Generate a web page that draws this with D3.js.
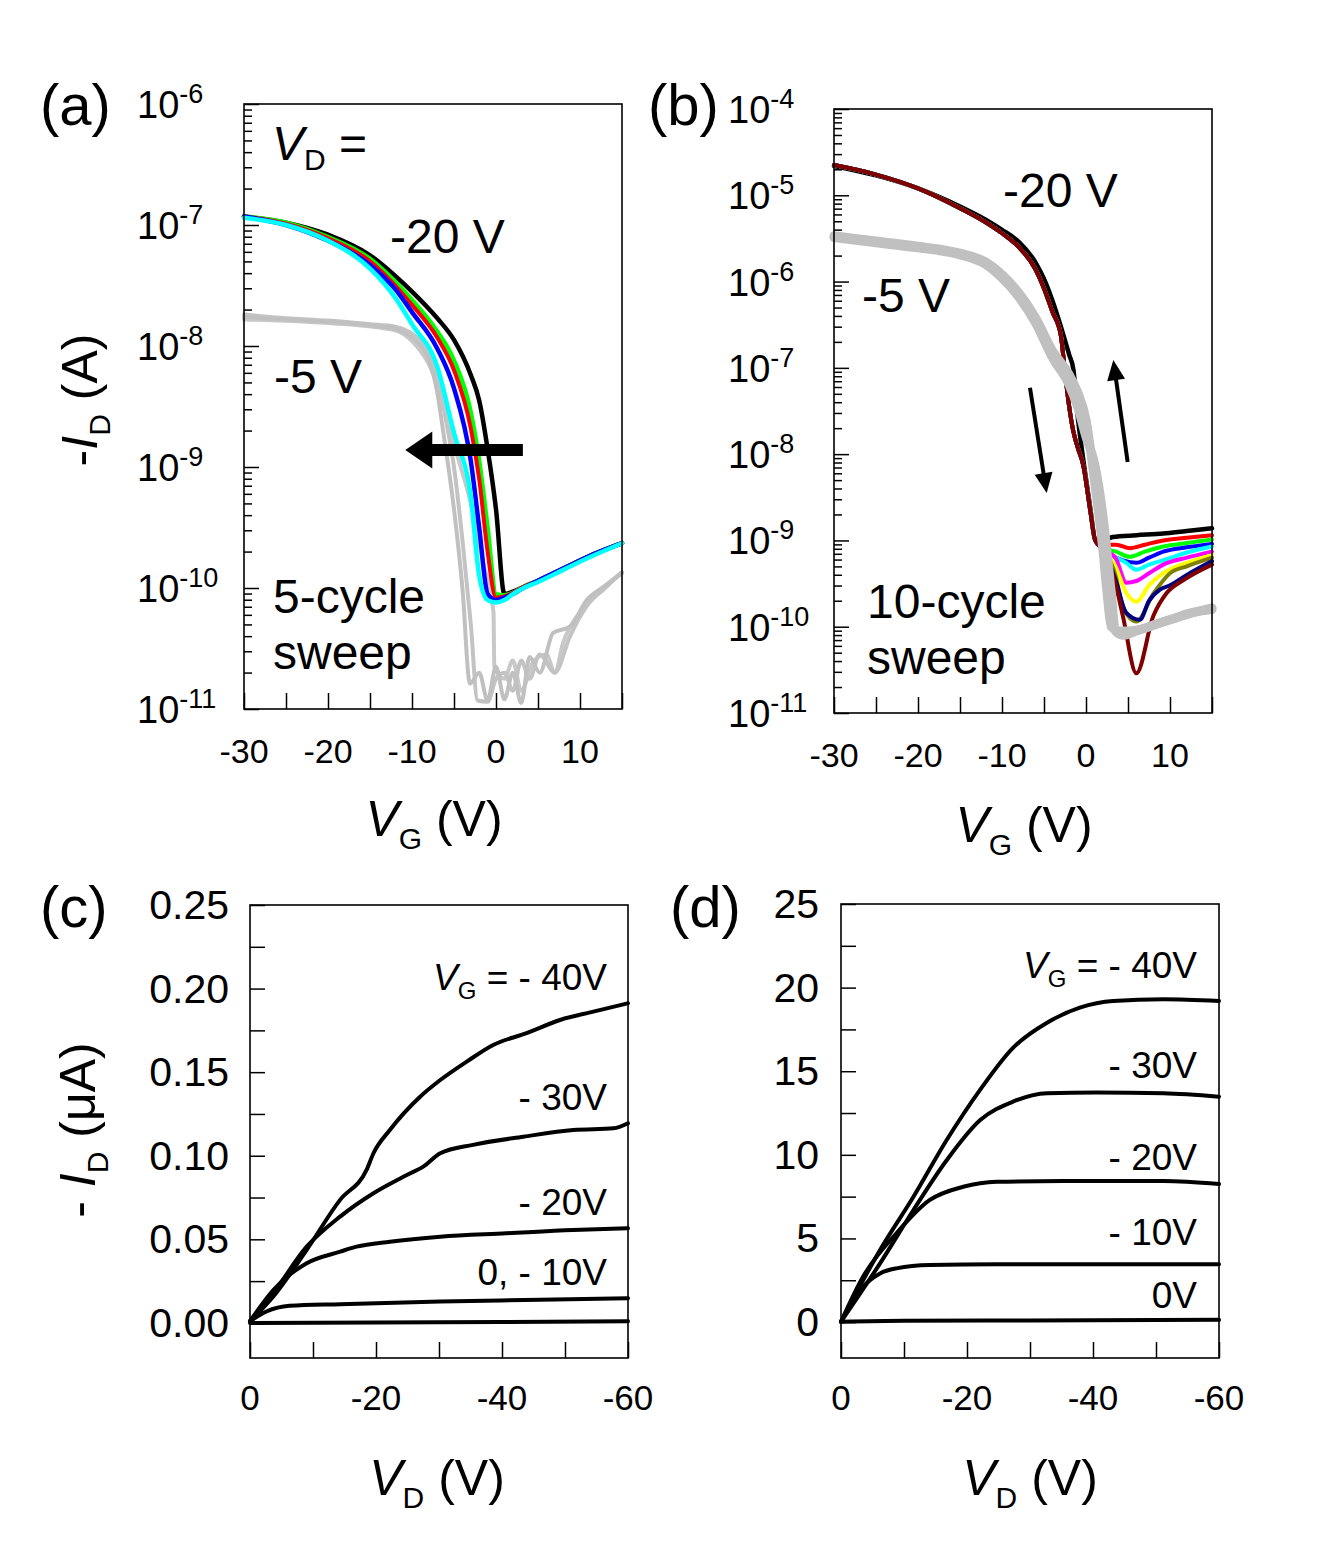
<!DOCTYPE html>
<html><head><meta charset="utf-8">
<script src="https://cdn.jsdelivr.net/npm/d3@7"></script>
<style>body{margin:0;background:#fff}text{font-family:"Liberation Sans",Arial,sans-serif;white-space:pre;fill:#000}</style>
</head><body><svg id="chart" width="1343" height="1549"></svg>
<script>
// ---------------- DATA ----------------
// Panel (a): transfer curves, VD = -20 V (5 cycles, coloured) and VD = -5 V (grey); values are log10(-ID / A)
const aV      = [-30,-25,-20,-15,-12,-10,-7,-5,-3,-2,-1,0,1,2,3,5,8,11,15];
const aBlack  = [-6.93,-6.98,-7.08,-7.25,-7.42,-7.55,-7.77,-7.95,-8.24,-8.45,-8.85,-9.35,-10.05,-10.03,-10.0,-9.94,-9.84,-9.74,-9.63];
const aGreen  = [-6.93,-6.98,-7.10,-7.28,-7.47,-7.62,-7.88,-8.12,-8.55,-8.95,-9.50,-10.05,-10.06,-10.04,-10.0,-9.94,-9.84,-9.74,-9.63];
const aRed    = [-6.93,-6.99,-7.11,-7.30,-7.50,-7.66,-7.93,-8.20,-8.68,-9.10,-9.70,-10.08,-10.07,-10.04,-10.0,-9.94,-9.84,-9.74,-9.63];
const aBlue   = [-6.93,-7.00,-7.13,-7.33,-7.53,-7.72,-8.02,-8.35,-8.95,-9.50,-10.05,-10.10,-10.08,-10.05,-10.01,-9.94,-9.84,-9.74,-9.63];
const aCyan   = [-6.94,-7.00,-7.13,-7.36,-7.60,-7.82,-8.17,-8.72,-9.25,-9.90,-10.10,-10.12,-10.10,-10.05,-10.01,-9.95,-9.85,-9.75,-9.63];
const aGrey1V = [-30,-25,-20,-15,-12,-10,-8,-7,-6.3,-5,-4,-3.1,-2,-1,0,1,2,3,4,5.2,6.8,8.8,10.8,13,15];
const aGrey1  = [-7.76,-7.78,-7.80,-7.83,-7.86,-7.93,-8.12,-8.38,-8.70,-9.35,-10.0,-10.79,-10.70,-10.93,-10.65,-10.92,-10.70,-10.95,-10.57,-10.70,-10.37,-10.32,-10.10,-9.98,-9.87];
const aGrey2V = [-30,-25,-20,-15,-12,-10,-8,-7,-6,-5,-4,-3,-2.2,-1,0,1,2,3,4,5.2,7,8.8,10.8,13,15];
const aGrey2  = [-7.74,-7.77,-7.79,-7.82,-7.84,-7.90,-8.05,-8.25,-8.60,-9.00,-9.60,-10.30,-10.93,-10.94,-10.75,-10.70,-10.85,-10.60,-10.75,-10.55,-10.70,-10.40,-10.15,-10.0,-9.87];
const aGrey3V = [-30,-20,-12,-10,-8,-6,-5,-3,-1.5,-0.3,-0.2,1,2,3,4.5,6,7,8,10,12,15];
const aGrey3  = [-7.78,-7.81,-7.87,-7.96,-8.15,-8.50,-8.80,-9.30,-9.80,-10.20,-10.65,-10.75,-10.60,-10.85,-10.60,-10.55,-10.70,-10.45,-10.20,-10.05,-9.88];

// Panel (b): VD = -20 V (10 cycles) and VD = -5 V (grey); log10(-ID / A)
const bUpperV = [-30,-25,-20,-15,-12,-10,-8,-6,-5,-4,-3,-2.5,-2,-1.5,-1,-0.3,0.5,1.1];
const bUpper  = [-4.65,-4.76,-4.92,-5.15,-5.31,-5.44,-5.60,-5.86,-6.08,-6.35,-6.62,-7.05,-7.45,-7.74,-7.92,-8.14,-8.65,-9.00];
const bBlackV = [-30,-25,-20,-15,-12,-10,-8,-6,-5,-4,-3,-2,-1.5,-1,-0.3,0.5,1.1,2,3.2,6,9.2,12,15];
const bBlack  = [-4.66,-4.77,-4.92,-5.13,-5.28,-5.40,-5.54,-5.78,-5.97,-6.22,-6.52,-6.85,-7.02,-7.55,-8.08,-8.62,-8.98,-9.0,-8.96,-8.94,-8.92,-8.89,-8.86];
const bRedTailV     = [2,3.6,5.2,7,9.2,12,15];
const bRedTail      = [-9.05,-9.05,-9.09,-9.05,-9.0,-8.97,-8.94];
const bGreenTailV   = [2,3.6,5.2,7,9.2,12,15];
const bGreenTail    = [-9.08,-9.13,-9.19,-9.13,-9.07,-9.03,-8.99];
const bBlueTailV    = [2,4.4,6,7.5,9.2,12,15];
const bBlueTail     = [-9.10,-9.23,-9.26,-9.20,-9.13,-9.08,-9.04];
const bCyanTailV    = [2,4.8,6,7.5,9.2,12,15];
const bCyanTail     = [-9.10,-9.26,-9.34,-9.28,-9.23,-9.14,-9.07];
const bMagentaTailV = [2,3.5,4.8,6,7.5,9.2,12,15];
const bMagentaTail  = [-9.10,-9.20,-9.49,-9.47,-9.38,-9.28,-9.20,-9.13];
const bYellowTailV  = [2,3.5,4.8,6,7.5,9.2,12,15];
const bYellowTail   = [-9.10,-9.30,-9.61,-9.71,-9.52,-9.38,-9.26,-9.17];
const bOliveTailV   = [2,3.5,4.4,6,8,10,12,15];
const bOliveTail    = [-9.10,-9.40,-9.77,-9.94,-9.62,-9.38,-9.30,-9.20];
const bNavyTailV    = [2,3.5,4.8,6.4,7.5,8.8,10,12,15];
const bNavyTail     = [-9.10,-9.45,-9.84,-9.92,-9.70,-9.57,-9.52,-9.40,-9.24];
const bMaroonTailV  = [2,3.5,4.4,6.0,8.0,9.6,11.6,15];
const bMaroonTail   = [-9.10,-9.50,-9.88,-10.54,-9.88,-9.61,-9.46,-9.28];
const bGreyAV = [-30,-25,-20,-15,-12,-10,-8,-6,-4,-2,-1,0,1,2,2.5,3,4,5,7,9,11,13,15];
const bGreyA  = [-5.47,-5.53,-5.59,-5.67,-5.77,-5.92,-6.13,-6.42,-6.80,-7.08,-7.28,-7.60,-8.30,-9.10,-9.60,-10.0,-10.05,-10.05,-10.02,-9.95,-9.89,-9.83,-9.78];
const bGreyBV = [-30,-25,-20,-15,-12,-10,-8,-6,-4,-2,-1,0,1,2,3,3.5,4.5,6,8,10,12,15];
const bGreyB  = [-5.49,-5.55,-5.61,-5.69,-5.80,-5.96,-6.18,-6.48,-6.88,-7.20,-7.45,-7.80,-8.10,-8.70,-9.60,-10.05,-10.10,-10.05,-9.98,-9.92,-9.85,-9.80];

// Panel (c): output curves, -ID in uA
const cV40 = [0,-3.7,-9.0,-14.3,-18.5,-19.6,-22.2,-27,-30.2,-34.4,-38.6,-43.9,-49.2,-54.5,-60];
const cI40 = [0.001,0.0158,0.0437,0.0736,0.0915,0.1015,0.1154,0.1353,0.1453,0.1563,0.1663,0.1733,0.1812,0.1862,0.1912];
const cV30 = [0,-3.7,-9.0,-14.3,-19.6,-24.9,-27.5,-30.2,-35.4,-43.4,-51.3,-57.7,-60];
const cI30 = [0.001,0.0179,0.0456,0.0636,0.0776,0.0885,0.0935,0.1015,0.1065,0.1114,0.1154,0.1164,0.1194];
const cV20 = [0,-3.7,-9.0,-14.3,-16.9,-22.2,-30.2,-40.7,-51.3,-60];
const cI20 = [0.001,0.0197,0.0357,0.0426,0.0456,0.0486,0.0516,0.0536,0.0556,0.0566];
const cV10 = [0,-2.6,-6.3,-14.3,-30.2,-46,-60];
const cI10 = [0.001,0.0068,0.0102,0.0112,0.0128,0.0138,0.0148];
const cV0  = [0,-20,-40,-60];
const cI0  = [0.0,0.0002,0.0005,0.0010];

// Panel (d): output curves, -ID in uA
const dV40 = [0,-6.2,-11.5,-16.8,-22.1,-27.3,-32.7,-37.9,-43.2,-51.2,-60];
const dI40 = [0.02,4.31,7.49,10.9,13.9,16.4,17.9,18.8,19.2,19.3,19.2];
const dV30 = [0,-6.2,-11.5,-16.8,-22.1,-27.3,-32.7,-40.6,-51.2,-60];
const dI30 = [0.02,3.51,6.70,9.69,12.08,13.18,13.68,13.72,13.68,13.48];
const dV20 = [0,-3.5,-8.8,-14.1,-19.4,-24.7,-35.3,-51.2,-60];
const dI20 = [0.02,2.71,5.31,7.30,8.09,8.39,8.43,8.43,8.25];
const dV10 = [0,-3.5,-6.2,-8.8,-14.1,-24.7,-60];
const dI10 = [0.02,2.11,2.91,3.21,3.41,3.45,3.45];
const dV0  = [0,-10,-30,-60];
const dI0  = [0.02,0.08,0.10,0.13];

// Axis ticks
const abXTicks = [-30,-25,-20,-15,-10,-5,0,5,10,15];
const abXLabels = [-30,-20,-10,0,10];
const aYExp = [-6,-7,-8,-9,-10,-11];
const bYExp = [-4,-5,-6,-7,-8,-9,-10,-11];
const cdXTicks = [0,-10,-20,-30,-40,-50,-60];
const cdXLabels = [0,-20,-40,-60];
const cYTicks = [0,0.025,0.05,0.075,0.1,0.125,0.15,0.175,0.2,0.225,0.25];
const cYLabels = [0,0.05,0.1,0.15,0.2,0.25];
const dYTicks = [0,2.5,5,7.5,10,12.5,15,17.5,20,22.5,25];
const dYLabels = [0,5,10,15,20,25];

// ---------------- DRAW ----------------
const svg = d3.select('#chart');
svg.append('rect').attr('width',1343).attr('height',1549).attr('fill','#fff');

function rich(sel, x, y, parts, size, anchor, rot){
  const t = sel.append('text').attr('x',x).attr('y',y).attr('font-size',size)
    .attr('text-anchor',anchor||'start');
  if(rot) t.attr('transform',`rotate(${rot},${x},${y})`);
  let cur=0;
  parts.forEach(p=>{
    const ts=t.append('tspan').text(p.t);
    const sh=p.dy||0;
    if(sh-cur!==0) ts.attr('dy',sh-cur);
    cur=sh;
    if(p.size) ts.attr('font-size',p.size);
    if(p.it) ts.attr('font-style','italic');
  });
  return t;
}

const L = {
  a:{l:244,r:622,t:104,b:709},
  b:{l:834,r:1212,t:109,b:713},
  c:{l:250,r:628,t:905,b:1358},
  d:{l:841,r:1219,t:904,b:1358}
};

function frame(L){
  svg.append('rect').attr('x',L.l).attr('y',L.t).attr('width',L.r-L.l).attr('height',L.b-L.t)
    .attr('fill','none').attr('stroke','#000').attr('stroke-width',1.6);
}
function styleAxis(g){ g.select('.domain').remove(); g.selectAll('line').attr('stroke','#000').attr('stroke-width',1.5); }

function xAxis(L,x,ticks){
  svg.append('g').attr('transform',`translate(0,${L.b})`)
    .call(d3.axisBottom(x).tickValues(ticks).tickSize(-16).tickFormat(''))
    .call(styleAxis);
}
function xLabels(x,vals,yb,size){
  vals.forEach(v=>svg.append('text').attr('x',x(v)).attr('y',yb).attr('font-size',size)
    .attr('text-anchor','middle').text(String(v)));
}

// ---- Panel (a) & (b) log transfer plots
function logPanel(L, exps, labX){
  const x = d3.scaleLinear().domain([-30,15]).range([L.l,L.r]);
  const y = d3.scaleLog().domain([Math.pow(10,d3.min(exps)),Math.pow(10,d3.max(exps))]).range([L.b,L.t]);
  const major = exps.map(e=>Math.pow(10,e));
  const minor = [];
  exps.slice(1).forEach(e=>{ for(let m=2;m<=9;m++) minor.push(m*Math.pow(10,e)); });
  svg.append('g').attr('transform',`translate(${L.l},0)`)
    .call(d3.axisLeft(y).tickValues(major).tickSize(-15).tickFormat('')).call(styleAxis);
  svg.append('g').attr('transform',`translate(${L.l},0)`)
    .call(d3.axisLeft(y).tickValues(minor).tickSize(-8).tickFormat('')).call(styleAxis);
  xAxis(L,x,abXTicks);
  exps.forEach(e=>{
    rich(svg, labX, y(Math.pow(10,e))+14, [{t:'10'},{t:String(e),size:27,dy:-15}], 38, 'start');
  });
  return {x,y};
}

function drawLog(s, V, lg, color, w, curve){
  const line = d3.line().curve(curve||d3.curveMonotoneX).x(d=>s.x(d[0])).y(d=>s.y(Math.pow(10,d[1])));
  svg.append('path').datum(d3.zip(V,lg)).attr('d',line).attr('fill','none')
    .attr('stroke',color).attr('stroke-width',w).attr('stroke-linejoin','round').attr('stroke-linecap','round');
}

// (a)
const sa = logPanel(L.a, aYExp, 137);
drawLog(sa, aGrey3V, aGrey3, '#c8c8c8', 4);
drawLog(sa, aGrey2V, aGrey2, '#c3c3c3', 4);
drawLog(sa, aGrey1V, aGrey1, '#c0c0c0', 4);
drawLog(sa, aV, aBlack, '#000000', 4.5);
drawLog(sa, aV, aGreen, '#00ff00', 4.5);
drawLog(sa, aV, aRed, '#ff0000', 4);
drawLog(sa, aV, aBlue, '#0000ff', 4.5);
drawLog(sa, aV, aCyan, '#00ffff', 4.5);
frame(L.a);
// big arrow in (a)
const arrowA = {from:[3.2,-8.86], to:[-10.8,-8.86]};
(function(){
  const x0=sa.x(arrowA.from[0]), x1=sa.x(arrowA.to[0]), yc=sa.y(Math.pow(10,arrowA.from[1]));
  const hl=27, hw=18.5, sw=6;
  const pts=[[x0,yc-sw],[x1+hl,yc-sw],[x1+hl,yc-hw],[x1,yc],[x1+hl,yc+hw],[x1+hl,yc+sw],[x0,yc+sw]];
  svg.append('path').attr('d','M'+pts.map(p=>p.join(',')).join('L')+'Z').attr('fill','#000');
})();
rich(svg, 272, 160, [{t:'V',it:true},{t:'D',size:30,dy:10},{t:' =',dy:0}], 48, 'start');
rich(svg, 390, 253, [{t:'-20 V'}], 48, 'start');
rich(svg, 274, 393, [{t:'-5 V'}], 48, 'start');
rich(svg, 273, 613, [{t:'5-cycle'}], 48, 'start');
rich(svg, 273, 669, [{t:'sweep'}], 48, 'start');

// (b)
const sb = logPanel(L.b, bYExp, 728);
const bTails = [
  [bRedTailV,bRedTail,'#ff0000'],[bGreenTailV,bGreenTail,'#00ff00'],[bBlueTailV,bBlueTail,'#0000ff'],
  [bCyanTailV,bCyanTail,'#00ffff'],[bMagentaTailV,bMagentaTail,'#ff00ff'],[bYellowTailV,bYellowTail,'#ffff00'],
  [bOliveTailV,bOliveTail,'#808000'],[bNavyTailV,bNavyTail,'#000080'],[bMaroonTailV,bMaroonTail,'#800000']
];
drawLog(sb, bBlackV, bBlack, '#000000', 4.5);
bTails.forEach(t=>drawLog(sb, bUpperV.concat(t[0]), bUpper.concat(t[1]), t[2], 4));
drawLog(sb, bGreyAV, bGreyA, '#c0c0c0', 9);
drawLog(sb, bGreyBV, bGreyB, '#c0c0c0', 9);
frame(L.b);
const arrowsB = [{from:[-6.67,-7.23],to:[-4.68,-8.45]},{from:[4.96,-8.09],to:[3.25,-6.91]}];
arrowsB.forEach(a=>{
  const x0=sb.x(a.from[0]), y0=sb.y(Math.pow(10,a.from[1]));
  const x1=sb.x(a.to[0]),   y1=sb.y(Math.pow(10,a.to[1]));
  const dx=x1-x0, dy=y1-y0, len=Math.hypot(dx,dy), ux=dx/len, uy=dy/len;
  const hl=20, hw=9;
  const bx=x1-ux*hl, by=y1-uy*hl;
  svg.append('line').attr('x1',x0).attr('y1',y0).attr('x2',bx+ux*2).attr('y2',by+uy*2)
    .attr('stroke','#000').attr('stroke-width',4);
  svg.append('path').attr('d',`M${x1},${y1}L${bx-uy*hw},${by+ux*hw}L${bx+uy*hw},${by-ux*hw}Z`).attr('fill','#000');
});
rich(svg, 1003, 207, [{t:'-20 V'}], 48, 'start');
rich(svg, 862, 312, [{t:'-5 V'}], 48, 'start');
rich(svg, 867, 618, [{t:'10-cycle'}], 48, 'start');
rich(svg, 867, 674, [{t:'sweep'}], 48, 'start');

// x tick labels and titles for (a),(b)
xLabels(sa.x, abXLabels, 763, 34);
xLabels(sb.x, abXLabels, 767, 34);
rich(svg, 434, 836, [{t:'V',it:true},{t:'G',size:30,dy:13},{t:' (V)',dy:0}], 50, 'middle');
rich(svg, 1024, 842, [{t:'V',it:true},{t:'G',size:30,dy:13},{t:' (V)',dy:0}], 50, 'middle');
rich(svg, 97, 400, [{t:'-'},{t:'I',it:true},{t:'D',size:30,dy:13},{t:' (A)',dy:0}], 50, 'middle', -90);

// ---- Panels (c),(d)
function linPanel(L, ydom, yTicks, yLabels, fmt, labRight){
  const x = d3.scaleLinear().domain([0,-60]).range([L.l,L.r]);
  const y = d3.scaleLinear().domain(ydom).range([L.b,L.t]);
  svg.append('g').attr('transform',`translate(${L.l},0)`)
    .call(d3.axisLeft(y).tickValues(yTicks).tickSize(-15).tickFormat('')).call(styleAxis);
  xAxis(L,x,cdXTicks);
  yLabels.forEach(v=>svg.append('text').attr('x',labRight).attr('y',y(v)+14).attr('font-size',41)
    .attr('text-anchor','end').text(fmt(v)));
  xLabels(x, cdXLabels, 1410, 35);
  return {x,y};
}
function drawLin(s,V,I){
  svg.append('path').datum(d3.zip(V,I))
    .attr('d',d3.line().curve(d3.curveMonotoneX).x(d=>s.x(d[0])).y(d=>s.y(d[1])))
    .attr('fill','none').attr('stroke','#000').attr('stroke-width',4).attr('stroke-linejoin','round').attr('stroke-linecap','round');
}
const sc = linPanel(L.c, [-0.021,0.25], cYTicks, cYLabels, d3.format('.2f'), 229);
[[cV40,cI40],[cV30,cI30],[cV20,cI20],[cV10,cI10],[cV0,cI0]].forEach(c=>drawLin(sc,c[0],c[1]));
frame(L.c);
const sd = linPanel(L.d, [-2.15,25], dYTicks, dYLabels, d3.format('d'), 819);
[[dV40,dI40],[dV30,dI30],[dV20,dI20],[dV10,dI10],[dV0,dI0]].forEach(c=>drawLin(sd,c[0],c[1]));
frame(L.d);

rich(svg, 607, 990, [{t:'V',it:true},{t:'G',size:24,dy:9},{t:' = - 40V',dy:0}], 37, 'end');
rich(svg, 607, 1110, [{t:'- 30V'}], 37, 'end');
rich(svg, 607, 1215, [{t:'- 20V'}], 37, 'end');
rich(svg, 607, 1285, [{t:'0, - 10V'}], 37, 'end');
rich(svg, 1197, 978, [{t:'V',it:true},{t:'G',size:24,dy:9},{t:' = - 40V',dy:0}], 37, 'end');
rich(svg, 1197, 1078, [{t:'- 30V'}], 37, 'end');
rich(svg, 1197, 1170, [{t:'- 20V'}], 37, 'end');
rich(svg, 1197, 1245, [{t:'- 10V'}], 37, 'end');
rich(svg, 1197, 1308, [{t:'0V'}], 37, 'end');

rich(svg, 437, 1495, [{t:'V',it:true},{t:'D',size:30,dy:13},{t:' (V)',dy:0}], 50, 'middle');
rich(svg, 1030, 1495, [{t:'V',it:true},{t:'D',size:30,dy:13},{t:' (V)',dy:0}], 50, 'middle');
rich(svg, 95, 1130, [{t:'- '},{t:'I',it:true},{t:'D',size:30,dy:13},{t:' (μA)',dy:0}], 50, 'middle', -90);

// panel letters
rich(svg, 40, 125, [{t:'(a)'}], 58, 'start');
rich(svg, 648, 125, [{t:'(b)'}], 58, 'start');
rich(svg, 40, 927, [{t:'(c)'}], 58, 'start');
rich(svg, 670, 927, [{t:'(d)'}], 58, 'start');
</script></body></html>
